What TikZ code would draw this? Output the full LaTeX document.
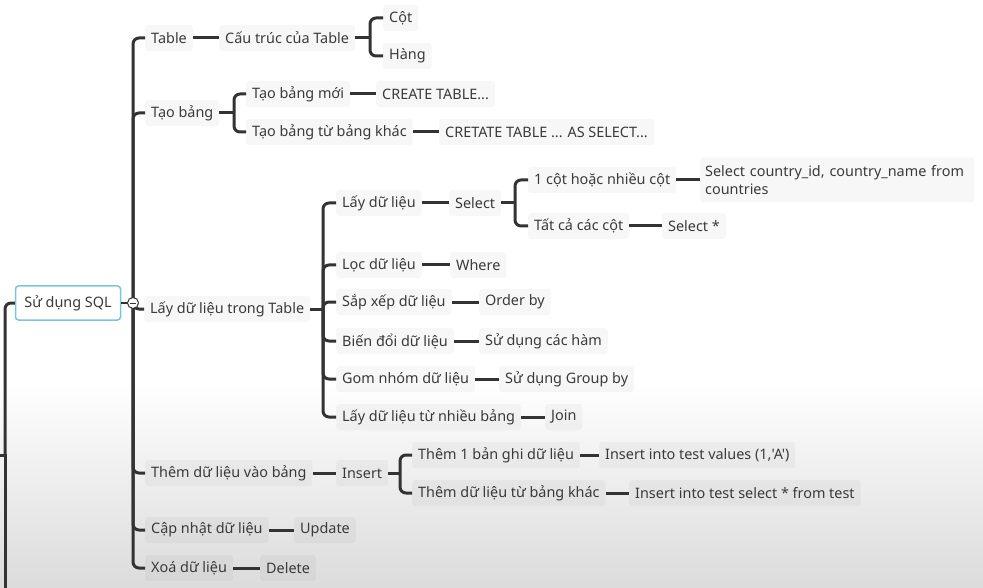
\documentclass[tikz,border=0pt]{standalone}
\usepackage{fontspec}
\setmainfont{Noto Sans}
\newfontfamily\mapfont{Noto Sans}
\definecolor{lnc}{HTML}{333333}
\definecolor{txt}{HTML}{3A3A3A}
\definecolor{rootb}{HTML}{7CC4DC}
\tikzset{
  nd/.style={fill=black, fill opacity=0.03, text opacity=1, rounded corners=3pt,
    inner xsep=6pt, inner ysep=0pt, minimum height=26pt, text=txt,
    font=\mapfont\fontsize{14.4}{18}\selectfont, anchor=west},
  ln/.style={draw=lnc, line width=3pt},
  br/.style={ln, rounded corners=6pt},
}
\begin{document}
\begin{tikzpicture}[x=1pt,y=-1pt]
\useasboundingbox (0,0) rectangle (983,588);
\fill[top color=white, bottom color=gray!28] (0,380) rectangle (983,588);

% nodes
\node[draw=rootb, line width=1.5pt, rounded corners=3pt, fill=white, text=txt,
  font=\mapfont\fontsize{14.4}{17}\selectfont, minimum width=105pt, minimum height=34pt,
  inner sep=0pt] (root) at (68,303) {Sử dụng SQL};

\node[nd] (n1) at (145,38) {Table};
\node[nd] (n1a) at (219,38) {Cấu trúc của Table};
\node[nd] (n1a1) at (383,18) {Cột};
\node[nd] (n1a2) at (383,56) {Hàng};

\node[nd] (n2) at (145,113) {Tạo bảng};
\node[nd] (n2a) at (246,94) {Tạo bảng mới};
\node[nd] (n2a1) at (376,94) {CREATE TABLE...};
\node[nd] (n2b) at (246,132) {Tạo bảng từ bảng khác};
\node[nd] (n2b1) at (439,132) {CRETATE TABLE ... AS SELECT...};

\node[nd] (n3) at (144,309) {Lấy dữ liệu trong Table};
\node[nd] (n3a) at (336,203) {Lấy dữ liệu};
\node[nd] (n3a1) at (449,203) {Select};
\node[nd] (n3a1a) at (528,180) {1 cột hoặc nhiều cột};
\node[nd, align=left, minimum height=45pt, text width=264pt, inner xsep=5pt] (n3a1a1) at (700,180) {Select country\_id, country\_name from\\countries};
\node[nd] (n3a1b) at (528,226) {Tất cả các cột};
\node[nd] (n3a1b1) at (662,226) {Select *};
\node[nd] (n3b) at (336,265) {Lọc dữ liệu};
\node[nd] (n3b1) at (450,265) {Where};
\node[nd] (n3c) at (336,302) {Sắp xếp dữ liệu};
\node[nd] (n3c1) at (479,302) {Order by};
\node[nd] (n3d) at (336,341) {Biến đổi dữ liệu};
\node[nd] (n3d1) at (479,341) {Sử dụng các hàm};
\node[nd] (n3e) at (336,379) {Gom nhóm dữ liệu};
\node[nd] (n3e1) at (499,379) {Sử dụng Group by};
\node[nd] (n3f) at (336,417) {Lấy dữ liệu từ nhiều bảng};
\node[nd] (n3f1) at (545,417) {Join};

\node[nd] (n4) at (145,473) {Thêm dữ liệu vào bảng};
\node[nd] (n4a) at (336,473) {Insert};
\node[nd] (n4a1) at (412,455) {Thêm 1 bản ghi dữ liệu};
\node[nd] (n4a1a) at (599,455) {Insert into test values (1,'A')};
\node[nd] (n4a2) at (412,493) {Thêm dữ liệu từ bảng khác};
\node[nd] (n4a2a) at (629,493) {Insert into test select * from test};

\node[nd] (n5) at (145,530) {Cập nhật dữ liệu};
\node[nd] (n5a) at (294,530) {Update};
\node[nd] (n6) at (145,568) {Xoá dữ liệu};
\node[nd] (n6a) at (260,568) {Delete};

% bracket points
\coordinate (t) at (133,303);
\coordinate (b1) at (370,38);
\coordinate (b2) at (234,113);
\coordinate (b3) at (323,309);
\coordinate (b3a) at (515,203);
\coordinate (b4) at (400,473);
\coordinate (lp) at (5,455);
\coordinate (lpin) at (-3,455);
\coordinate (lpend) at (5,600);

% left parent line
\draw[ln] (lpin) -- (lp) -- (lpend);
\draw[br] (lp) |- (root.west);

% trunk
\foreach \c in {n1,n2,n3,n4,n5,n6} \draw[br] (t) |- (\c.west);

% straight connectors
\foreach \a/\b in {n1/n1a, n2a/n2a1, n2b/n2b1, n3a/n3a1, n3a1a/n3a1a1, n3a1b/n3a1b1,
  n3b/n3b1, n3c/n3c1, n3d/n3d1, n3e/n3e1, n3f/n3f1, n4/n4a, n4a1/n4a1a, n4a2/n4a2a,
  n5/n5a, n6/n6a}
  \draw[ln] (\a.east) -- (\b.west);

% brackets
\draw[ln] (n1a.east) -- (b1);
\foreach \c in {n1a1,n1a2} \draw[br] (b1) |- (\c.west);
\draw[ln] (n2.east) -- (b2);
\foreach \c in {n2a,n2b} \draw[br] (b2) |- (\c.west);
\draw[ln] (n3.east) -- (b3);
\foreach \c in {n3a,n3b,n3c,n3d,n3e,n3f} \draw[br] (b3) |- (\c.west);
\draw[ln] (n3a1.east) -- (b3a);
\foreach \c in {n3a1a,n3a1b} \draw[br] (b3a) |- (\c.west);
\draw[ln] (n4a.east) -- (b4);
\foreach \c in {n4a1,n4a2} \draw[br] (b4) |- (\c.west);

% collapse circle
\draw[draw=lnc, line width=2pt] (root.east) -- (t);
\node[circle, draw=lnc, line width=1pt, fill=white, minimum size=11pt, inner sep=0pt,
  path picture={\draw[lnc, line width=1pt]
    ([xshift=-3pt]path picture bounding box.center) -- ([xshift=3pt]path picture bounding box.center);}]
  (col) at (t) {};
\end{tikzpicture}
\end{document}
